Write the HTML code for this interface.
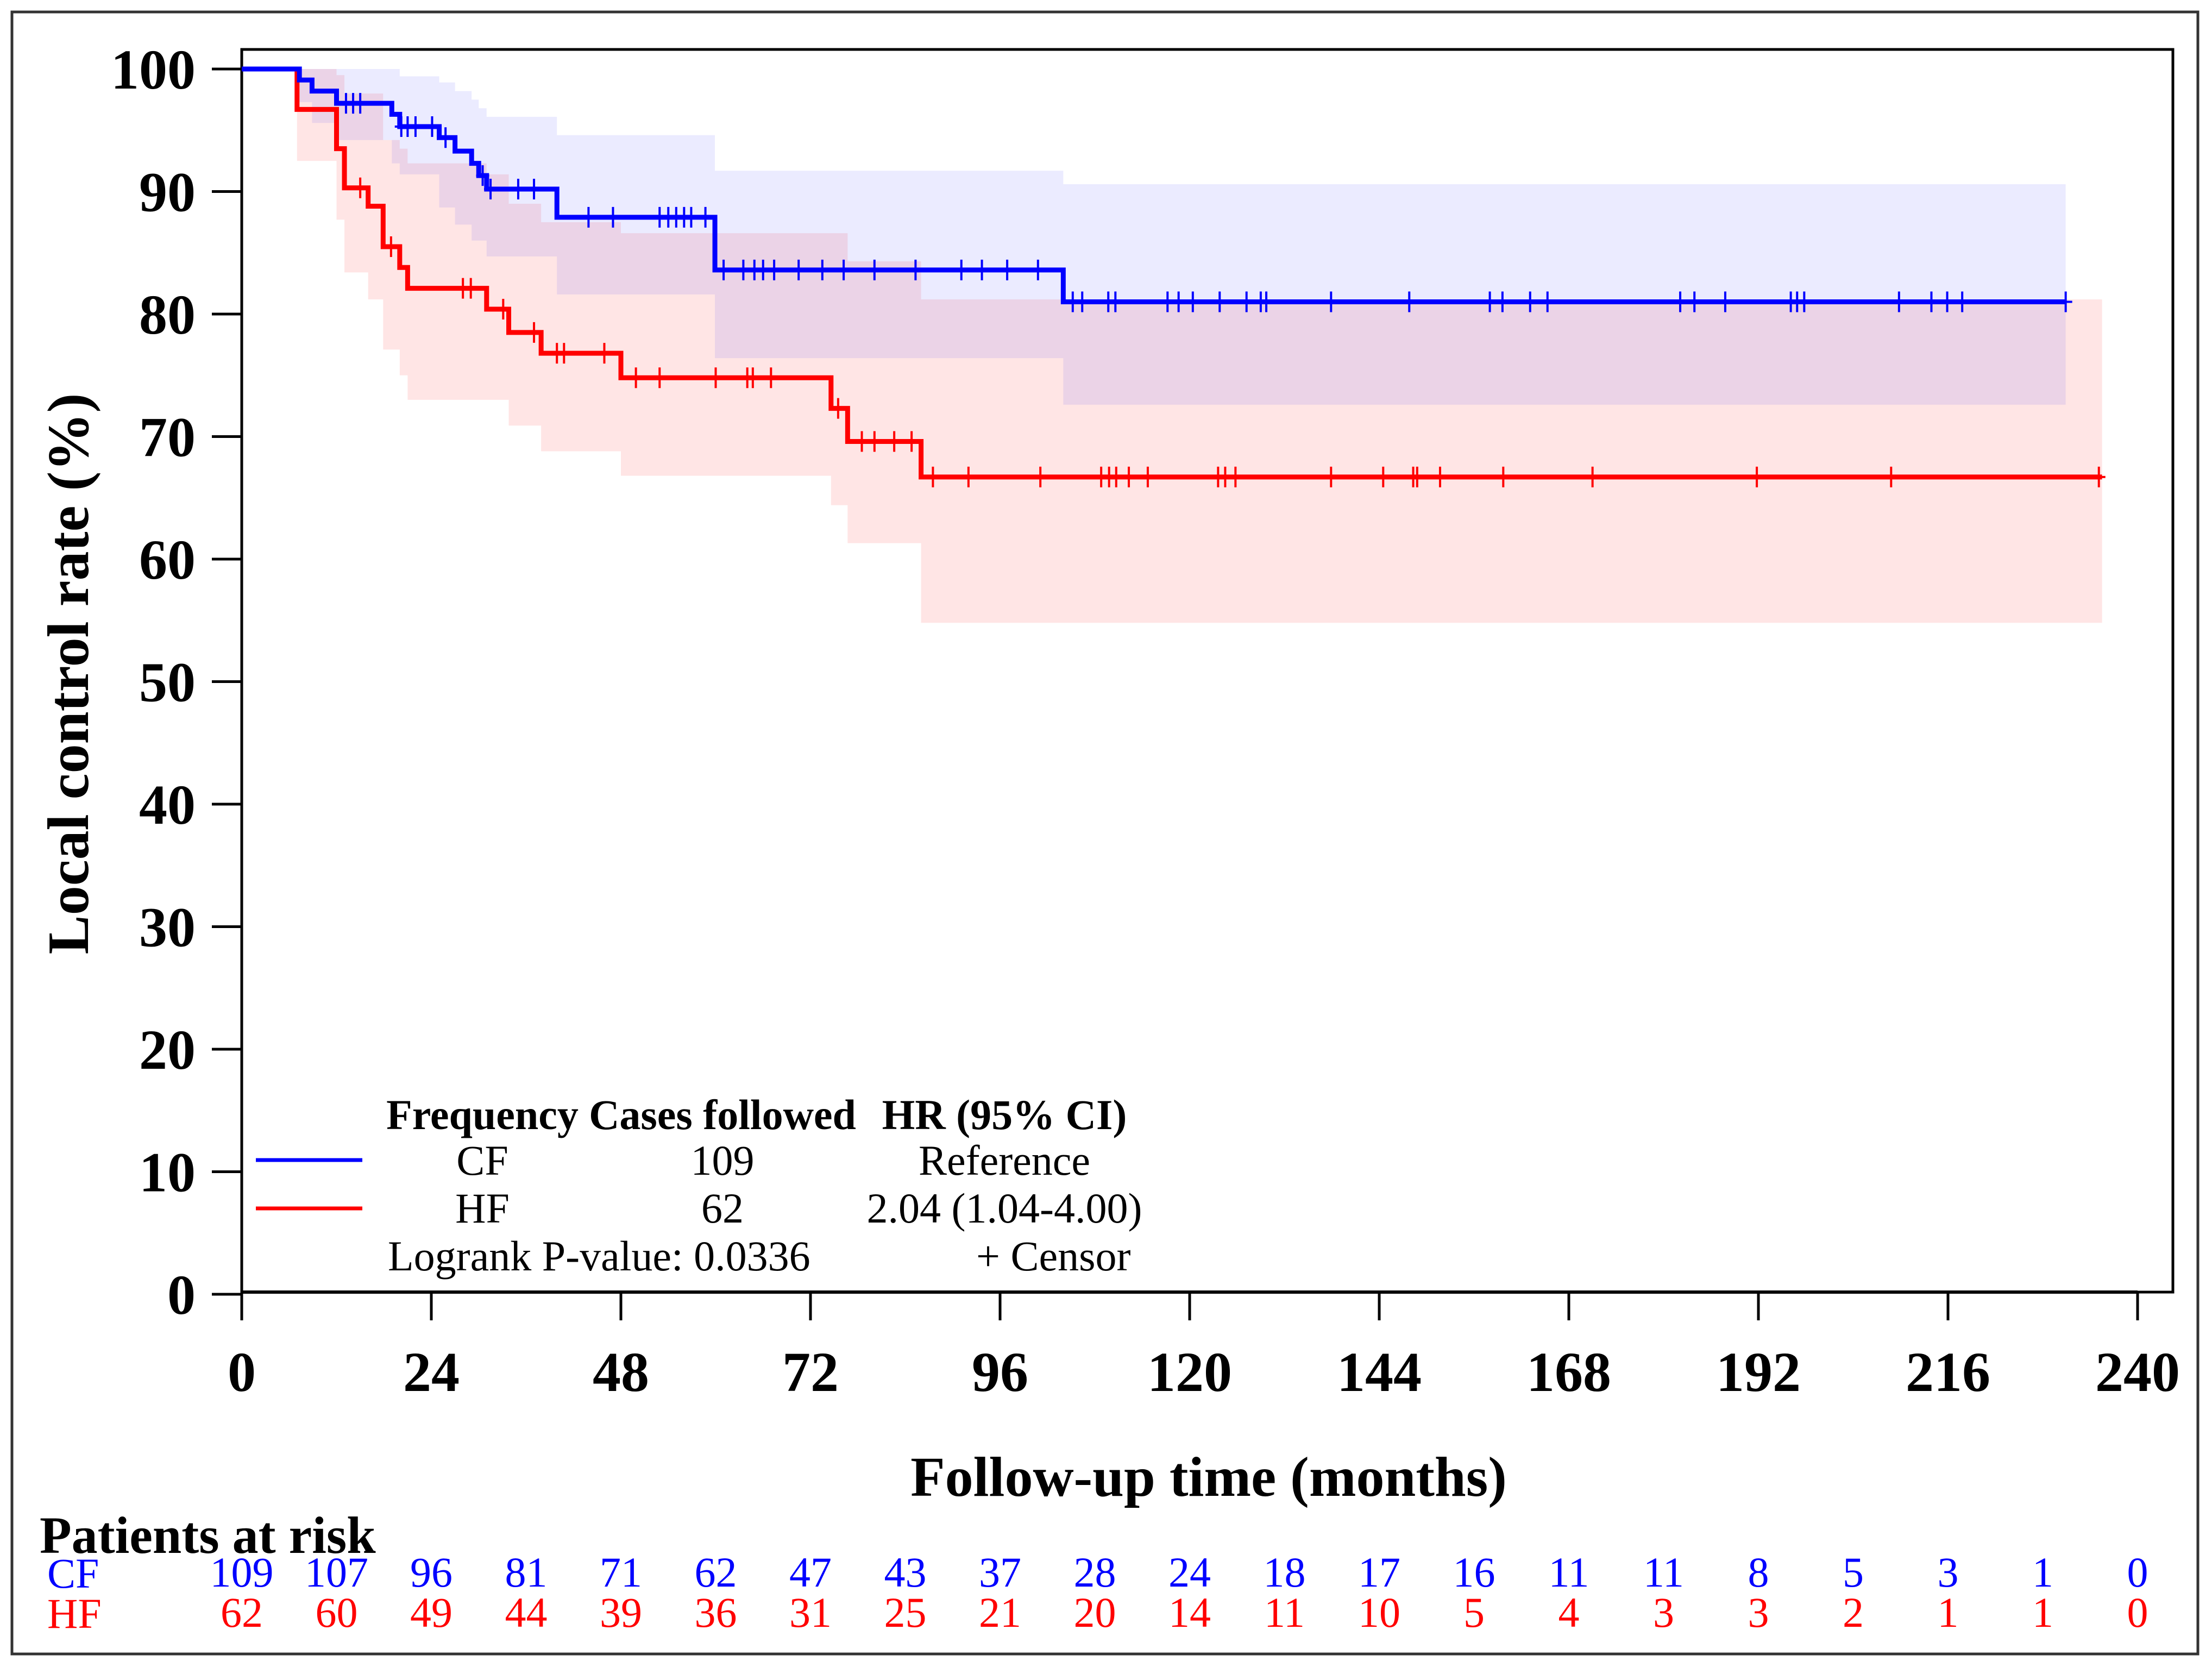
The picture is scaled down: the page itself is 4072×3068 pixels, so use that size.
<!DOCTYPE html>
<html><head><meta charset="utf-8"><style>
html,body{margin:0;padding:0;background:#fff;}
svg{display:block;font-family:"Liberation Serif",serif;}
</style></head><body>
<svg id="chart" width="4072" height="3068" viewBox="0 0 4072 3068" xmlns="http://www.w3.org/2000/svg">
<rect x="22" y="22" width="4024" height="3022" fill="none" stroke="#333" stroke-width="5"/>
<rect x="445" y="91" width="3555" height="2287" fill="none" stroke="#000" stroke-width="5"/>
<g id="bands"></g>
<g id="curves"></g>
<g id="axes"></g>
<text x="2225" y="2753" font-size="104" font-weight="bold" text-anchor="middle">Follow-up time (months)</text>
<text transform="translate(162,1240) rotate(-90)" font-size="108" font-weight="bold" text-anchor="middle">Local control rate (%)</text>
<g font-size="78">
<text x="888" y="2078" font-weight="bold" text-anchor="middle">Frequency</text>
<text x="1330" y="2078" font-weight="bold" text-anchor="middle">Cases followed</text>
<text x="1849" y="2078" font-weight="bold" text-anchor="middle">HR (95% CI)</text>
<line x1="471" y1="2135" x2="667" y2="2135" stroke="#00f" stroke-width="7"/>
<line x1="471" y1="2224" x2="667" y2="2224" stroke="#f00" stroke-width="7"/>
<text x="888" y="2162" text-anchor="middle">CF</text>
<text x="1330" y="2162" text-anchor="middle">109</text>
<text x="1849" y="2162" text-anchor="middle">Reference</text>
<text x="888" y="2250" text-anchor="middle">HF</text>
<text x="1330" y="2250" text-anchor="middle">62</text>
<text x="1849" y="2250" text-anchor="middle">2.04 (1.04-4.00)</text>
<text x="714" y="2338">Logrank P-value: 0.0336</text>
<text x="1797" y="2338">+ Censor</text>
</g>
<text x="73" y="2858" font-size="96" font-weight="bold">Patients at risk</text>
<text x="87" y="2922" font-size="78" fill="#00f">CF</text>
<text x="87" y="2996" font-size="78" fill="#f00">HF</text>
<g id="risk" font-size="78" text-anchor="middle"></g>
</svg>
<script>
const xTicks=[0,24,48,72,96,120,144,168,192,216,240];
const yTicks=[0,10,20,30,40,50,60,70,80,90,100];
const cfTimes=[0,7.3,8.9,12,19,20,25,27,29.1,30,31,39.9,59.9,104];
const cfSurv=[100,99.1,98.2,97.2,96.3,95.3,94.4,93.3,92.3,91.3,90.2,87.9,83.6,81.0];
const cfLo=[100,97.3,95.6,94.2,92.3,91.4,88.7,87.3,86.0,86.0,84.7,81.6,76.4,72.6];
const cfHi=[100,100,100,100,100,99.4,98.9,98.2,97.5,96.8,96.1,94.6,91.7,90.6];
const cfEnd=230.9;
const cfCensor=[13.2,14.1,15.0,20.2,21.0,22.0,24.1,25.8,30.5,31.5,35,37,43.9,47,52.9,54,55,56,56.9,58.7,61,63.5,64.9,66,67.4,70.5,73.5,76.2,80.1,85.3,91.1,93.7,96.9,100.8,105.2,106.4,109.7,110.6,117.2,118.6,120.4,123.8,127.2,129,129.7,137.9,147.8,158,159.6,163.1,165.3,182.1,183.9,187.8,196.1,196.9,197.8,209.8,213.9,215.9,217.8,230.9];
const hfTimes=[0,7,12,13,16,17.9,20,21,31,33.8,37.9,48,74.6,76.7,86];
const hfSurv=[100,96.7,93.5,90.3,88.8,85.5,83.8,82.1,80.4,78.5,76.8,74.8,72.3,69.6,66.7];
const hfLo=[100,92.5,87.7,83.4,81.2,77.1,75.0,73.0,73.0,70.9,68.8,66.8,64.4,61.3,54.8];
const hfHi=[100,100,99.5,98.0,98.0,94.2,93.5,92.3,91.4,89.0,87.5,86.6,86.6,84.3,81.2];
const hfEnd=235.5;
const hfCensor=[15,18.9,28,29,33.1,37,39.9,40.8,45.9,49.9,52.9,60,64,64.7,67,75.5,78.5,80.1,82.6,84.8,87.5,92,101.1,108.8,109.8,110.7,112.3,114.7,123.6,124.5,125.8,137.9,144.5,148.3,148.8,151.7,159.7,171,191.8,208.8,235.1];
const riskTimes=[0,12,24,36,48,60,72,84,96,108,120,132,144,156,168,180,192,204,216,228,240];
const cfRisk=[109,107,96,81,71,62,47,43,37,28,24,18,17,16,11,11,8,5,3,1,0];
const hfRisk=[62,60,49,44,39,36,31,25,21,20,14,11,10,5,4,3,3,2,1,1,0];

const NS="http://www.w3.org/2000/svg";
const X=t=>445+t*(3490/240);
const Y=v=>2382-v*22.55;
function mk(tag,attrs,parent){const e=document.createElementNS(NS,tag);for(const k in attrs)e.setAttribute(k,attrs[k]);parent.appendChild(e);return e;}
function stepPath(times,vals,end){let d=`M${X(times[0])},${Y(vals[0])}`;for(let i=1;i<times.length;i++){d+=` H${X(times[i])} V${Y(vals[i])}`;}d+=` H${X(end)}`;return d;}
function bandPath(times,lo,hi,end){let d=`M${X(times[0])},${Y(hi[0])}`;for(let i=1;i<times.length;i++){d+=` H${X(times[i])} V${Y(hi[i])}`;}d+=` H${X(end)} V${Y(lo[lo.length-1])}`;for(let i=times.length-1;i>=1;i--){d+=` H${X(times[i])} V${Y(lo[i-1])}`;}d+=` H${X(times[0])} Z`;return d;}
function survAt(times,vals,t){let v=vals[0];for(let i=0;i<times.length;i++){if(times[i]<=t)v=vals[i];}return v;}
const bands=document.getElementById('bands'),curves=document.getElementById('curves'),axes=document.getElementById('axes'),risk=document.getElementById('risk');
let b=mk('path',{d:bandPath(hfTimes,hfLo,hfHi,hfEnd),fill:'#ff0000','fill-opacity':'0.1'},bands);


b=mk('path',{d:bandPath(cfTimes,cfLo,cfHi,cfEnd),fill:'#0000ff','fill-opacity':'0.08'},bands);


let p=mk('path',{d:stepPath(hfTimes,hfSurv,hfEnd),fill:'none',stroke:'#f00','stroke-width':9},curves);


p=mk('path',{d:stepPath(cfTimes,cfSurv,cfEnd),fill:'none',stroke:'#00f','stroke-width':9},curves);


function censors(arr,times,vals,col,name){arr.forEach(t=>{const x=X(t),y=Y(survAt(times,vals,t));const g=mk('path',{d:`M${x},${y-19} V${y+19} M${x-12},${y} H${x+12}`,stroke:col,'stroke-width':4},curves);

});}
censors(hfCensor,hfTimes,hfSurv,'#f00','hf-censor-mark');
censors(cfCensor,cfTimes,cfSurv,'#00f','cf-censor-mark');
mk('line',{x1:X(0),y1:2378,x2:X(240),y2:2378,stroke:'#000','stroke-width':6},axes);
xTicks.forEach(t=>{const l=mk('line',{x1:X(t),y1:2378,x2:X(t),y2:2430,stroke:'#000','stroke-width':5},axes);


const tx=mk('text',{x:X(t),y:2560,'font-size':104,'font-weight':'bold','text-anchor':'middle'},axes);tx.textContent=t;

});
yTicks.forEach(v=>{const l=mk('line',{x1:390,y1:Y(v),x2:445,y2:Y(v),stroke:'#000','stroke-width':5},axes);


const tx=mk('text',{x:360,y:Y(v)+36,'font-size':104,'font-weight':'bold','text-anchor':'end'},axes);tx.textContent=v;

});
riskTimes.forEach((t,i)=>{const a=mk('text',{x:X(t),y:2920,fill:'#00f'},risk);a.textContent=cfRisk[i];


const c=mk('text',{x:X(t),y:2994,fill:'#f00'},risk);c.textContent=hfRisk[i];

});
</script>
</body></html>
